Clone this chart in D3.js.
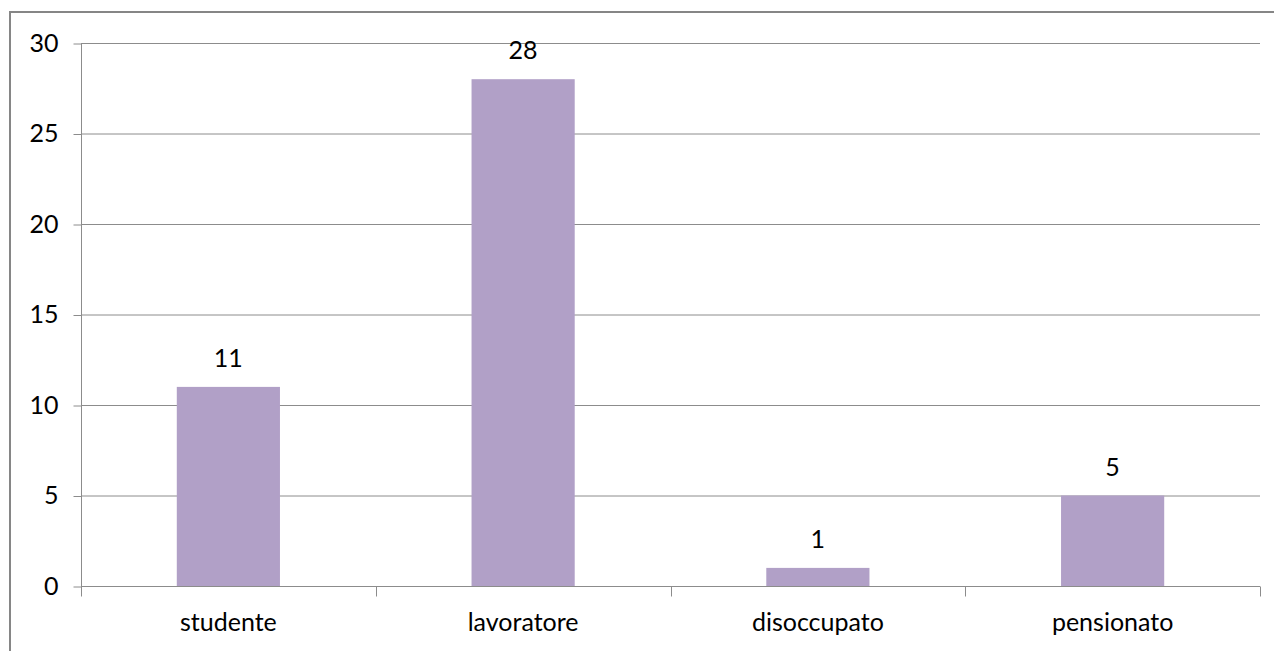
<!DOCTYPE html>
<html><head><meta charset="utf-8">
<script src="https://cdn.jsdelivr.net/npm/d3@7"></script>
<style>body{margin:0;background:#fff;} svg{display:block;}</style>
</head><body><svg id="c" width="1274" height="651"></svg>
<script>
const categories = ["studente", "lavoratore", "disoccupato", "pensionato"];
const values = [11, 28, 1, 5];
const yTicks = [0, 5, 10, 15, 20, 25, 30];

const svg = d3.select("#c");
const font = "Lato, 'Open Sans', 'Liberation Sans', sans-serif";
const m = {left: 81, top: 43, right: 1260, bottom: 586};

svg.append("rect").attr("x", 10).attr("y", 12).attr("width", 1300).attr("height", 700)
  .attr("fill", "none").attr("stroke", "#868686").attr("stroke-width", 2);

const x = d3.scaleBand().domain(categories).range([m.left, m.right]).paddingInner(0.65).paddingOuter(0.325);
const xb = d3.scaleBand().domain(categories).range([m.left, m.right]);
const y = d3.scaleLinear().domain([0, 30]).range([m.bottom, m.top]);

// gridlines
svg.append("g").selectAll("line").data(yTicks.filter(d => d > 0)).join("line")
  .attr("x1", m.left).attr("x2", m.right)
  .attr("y1", d => y(d) + 0.5).attr("y2", d => y(d) + 0.5)
  .attr("stroke", "#8c8c8c").attr("stroke-width", 1);

// y axis
const ya = svg.append("g").attr("transform", `translate(${m.left + 0.5},0)`)
  .call(d3.axisLeft(y).tickValues(yTicks).tickSize(8).tickPadding(15).tickFormat(d3.format("d")));
ya.select(".domain").attr("stroke", "#8c8c8c").attr("d", `M0,${m.top}V${m.bottom}`);
ya.selectAll(".tick line").attr("stroke", "#8c8c8c").attr("transform", "translate(0,0.5)");
ya.selectAll("text").attr("font-family", font).attr("font-size", 25).attr("fill", "#000");

// bars
svg.append("g").selectAll("rect").data(values).join("rect")
  .attr("x", (d, i) => x(categories[i])).attr("width", x.bandwidth())
  .attr("y", d => y(d)).attr("height", d => y(0) - y(d))
  .attr("fill", "#B1A0C7");

// x axis
const xa = svg.append("g").attr("transform", `translate(0,${m.bottom + 0.5})`);
xa.append("line").attr("x1", m.left).attr("x2", m.right).attr("stroke", "#8c8c8c");
const bounds = categories.map(c => xb(c)).concat([m.right]);
xa.selectAll("line.t").data(bounds).join("line").attr("class", "t")
  .attr("x1", d => Math.round(d) + 0.5).attr("x2", d => Math.round(d) + 0.5)
  .attr("y1", 0).attr("y2", 10).attr("stroke", "#8c8c8c");
xa.selectAll("text").data(categories).join("text")
  .attr("x", d => xb(d) + xb.bandwidth() / 2).attr("y", 44)
  .attr("text-anchor", "middle").attr("font-family", font).attr("font-size", 25)
  .attr("fill", "#000").text(d => d);

// value labels
svg.append("g").selectAll("text").data(values).join("text")
  .attr("x", (d, i) => x(categories[i]) + x.bandwidth() / 2)
  .attr("y", d => y(d) - 20)
  .attr("text-anchor", "middle").attr("font-family", font).attr("font-size", 25)
  .attr("fill", "#000").text(d => d);
</script></body></html>
